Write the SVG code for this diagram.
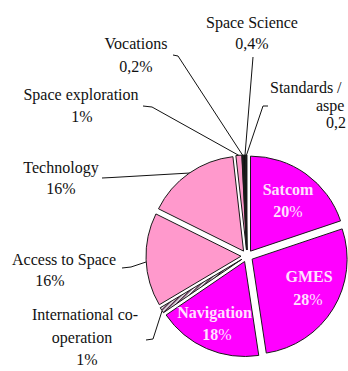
<svg xmlns="http://www.w3.org/2000/svg" width="348" height="371" viewBox="0 0 348 371">
<style>
.lbl{font-family:"Liberation Serif","Times New Roman",serif;font-size:16px;fill:#111;text-anchor:middle}
.in{font-family:"Liberation Serif","Times New Roman",serif;font-size:16px;font-weight:bold;fill:#ffe0ff;text-anchor:middle}
.sl{stroke:#1a1a1a;stroke-width:1;stroke-linejoin:round}
.mag{fill:#ff00ff}
.pnk{fill:#ff99cc}
.blk{fill:#111}
.lead{fill:none;stroke:#111;stroke-width:1}
</style>
<defs>
<pattern id="hatch" width="3" height="3" patternUnits="userSpaceOnUse" patternTransform="rotate(45)">
<rect width="3" height="3" fill="#fff"/>
<rect width="1.5" height="3" fill="#4a2040"/>
</pattern>
</defs>
<rect width="348" height="371" fill="#fff"/>
<g id="connectors">
<path class="lead" d="M253,57 L245,155"/>
<path class="lead" d="M268,106 L263,106 L246.5,155"/>
<path class="lead" d="M173,55 L178,56 L242.5,155"/>
<path class="lead" d="M143,106 L152,107 L239,155.5"/>
<path class="lead" d="M102,178 L112,177.5 L190,173"/>
<path class="lead" d="M122,268 L131,267 L146,262"/>
<path class="lead" d="M146,340 L153,339 L162,311"/>
</g>
<g id="satcom">
<path class="sl mag" d="M250.5,251.13 L250.5,156.13 A95,95 0 0 1 340.55,220.88 Z"/>
<text class="in" x="288" y="195">Satcom</text>
<text class="in" x="288" y="217">20<tspan font-weight="normal">%</tspan></text>
</g>
<g id="gmes">
<path class="sl mag" d="M252.12,259.13 L342.17,228.88 A95,95 0 0 1 266.28,353.07 Z"/>
<text class="in" x="309" y="282">GMES</text>
<text class="in" x="308" y="305">28<tspan font-weight="normal">%</tspan></text>
</g>
<g id="navigation">
<path class="sl mag" d="M244.6,261.5 L258.76,355.44 A95,95 0 0 1 166.11,315.01 Z"/>
<text class="in" x="214.5" y="318">Navigation</text>
<text class="in" x="217" y="340">18<tspan font-weight="normal">%</tspan></text>
</g>
<g id="international">
<path class="sl" fill="url(#hatch)" d="M241.94,259.22 L163.45,312.73 A95,95 0 0 1 160.26,307.74 Z"/>
<text class="lbl" x="85" y="320">International co-</text>
<text class="lbl" x="82" y="343">operation</text>
<text class="lbl" x="87" y="365">1%</text>
</g>
<g id="access">
<path class="sl pnk" d="M241,256.22 L159.32,304.74 A95,95 0 0 1 155.93,213.94 Z"/>
<text class="lbl" x="64" y="265">Access to Space</text>
<text class="lbl" x="50" y="286">16%</text>
</g>
<g id="technology">
<path class="sl pnk" d="M243.56,251.08 L158.49,208.8 A95,95 0 0 1 232.92,156.68 Z"/>
<text class="lbl" x="61" y="173">Technology</text>
<text class="lbl" x="61" y="194">16%</text>
</g>
<g id="space-exploration">
<path class="sl pnk" d="M246.51,250.02 L235.87,155.62 A95,95 0 0 1 241.77,155.13 Z"/>
<text class="lbl" x="81" y="100">Space exploration</text>
<text class="lbl" x="82" y="122">1%</text>
</g>
<g id="vocations">
<path class="sl blk" d="M246.74,250.01 L242,155.12 A95,95 0 0 1 243.19,155.08 Z"/>
<text class="lbl" x="136" y="49">Vocations</text>
<text class="lbl" x="136" y="72">0,2%</text>
</g>
<g id="space-science">
<path class="sl blk" d="M246.85,250 L243.3,155.07 A95,95 0 0 1 245.67,155.01 Z"/>
<text class="lbl" x="252" y="28">Space Science</text>
<text class="lbl" x="252" y="49">0,4%</text>
</g>
<g id="standards">
<path class="sl blk" d="M246.96,250 L245.78,155.01 A95,95 0 0 1 246.96,155 Z"/>
<text class="lbl" x="270" y="93" style="text-anchor:start">Standards /</text>
<text class="lbl" x="316" y="111" style="text-anchor:start">aspe</text>
<text class="lbl" x="326" y="128" style="text-anchor:start">0,2</text>
</g>
</svg>
